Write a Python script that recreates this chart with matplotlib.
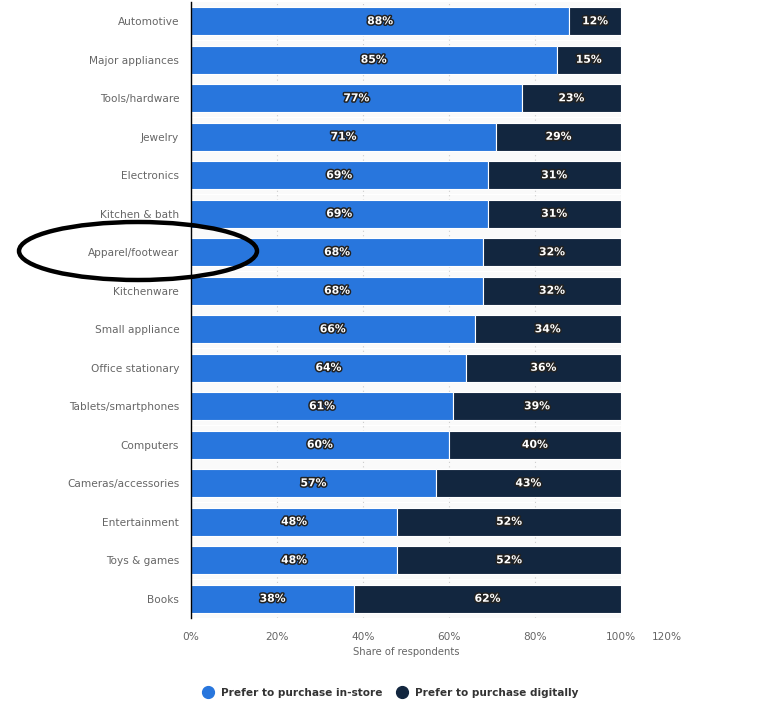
import matplotlib
matplotlib.use("Agg")
import matplotlib.pyplot as plt
import matplotlib.patheffects as pe
from matplotlib.patches import Ellipse
from matplotlib.lines import Line2D

categories = ["Automotive", "Major appliances", "Tools/hardware", "Jewelry", "Electronics",
              "Kitchen & bath", "Apparel/footwear", "Kitchenware", "Small appliance",
              "Office stationary", "Tablets/smartphones", "Computers", "Cameras/accessories",
              "Entertainment", "Toys & games", "Books"]
in_store = [88, 85, 77, 71, 69, 69, 68, 68, 66, 64, 61, 60, 57, 48, 48, 38]
digital = [12, 15, 23, 29, 31, 31, 32, 32, 34, 36, 39, 40, 43, 52, 52, 62]
x_ticks = [0, 20, 40, 60, 80, 100]
x_tick_labels = ["0%", "20%", "40%", "60%", "80%", "100%"]
series_names = ["Prefer to purchase in-store", "Prefer to purchase digitally"]

c_in = "#2876dd"
c_dig = "#12263f"

fig = plt.figure(figsize=(7.59, 7.13), dpi=100)
ax = fig.add_axes([191/759, 1-618/713, (621-191)/759, (618-2)/713])

y = list(range(len(categories)))
ax.barh(y, [100]*len(y), height=0.98, color="#fafafa", zorder=0)
ax.barh(y, in_store, height=0.72, color=c_in, edgecolor="white", linewidth=0.8, zorder=2)
ax.barh(y, digital, left=in_store, height=0.72, color=c_dig, edgecolor="white", linewidth=0.8, zorder=2)

effects = [pe.withStroke(linewidth=2.2, foreground="#222222")]
for i in y:
    ax.text(in_store[i]/2, i, f"{in_store[i]}%", ha="center", va="center", color="white",
            fontsize=7.8, fontweight="bold", path_effects=effects, zorder=4)
    ax.text(in_store[i] + digital[i]/2, i, f"{digital[i]}%", ha="center", va="center", color="white",
            fontsize=7.8, fontweight="bold", path_effects=effects, zorder=4)

ax.set_xlim(0, 100)
ax.set_ylim(len(categories)-0.5, -0.5)
ax.set_yticks(y)
ax.set_yticklabels(categories, fontsize=7.6, color="#666666")
ax.set_xticks(x_ticks)
ax.set_xticklabels(x_tick_labels, fontsize=7.6, color="#666666")
ax.text(1.107, -0.0225, "120%", transform=ax.transAxes, ha="center", va="top",
        fontsize=7.6, color="#666666")
ax.tick_params(axis="y", length=0, pad=8.5)
ax.tick_params(axis="x", length=0, pad=10)
for s in ["top", "right", "bottom"]:
    ax.spines[s].set_visible(False)
ax.spines["left"].set_color("black")
ax.spines["left"].set_linewidth(1.0)
ax.set_axisbelow(True)
ax.grid(axis="x", color="#cccccc", linestyle=(0, (1, 3)), linewidth=0.8, zorder=1)
ax.set_xlabel("Share of respondents", fontsize=7.2, color="#666666", labelpad=4)

handles = [Line2D([], [], marker="o", linestyle="none", markersize=8.5, color=c_in),
           Line2D([], [], marker="o", linestyle="none", markersize=8.5, color=c_dig)]
fig.legend(handles, series_names, loc="center", bbox_to_anchor=(388/759, 1-693/713), ncol=2,
           frameon=False, prop={"weight": "bold", "size": 7.6}, handletextpad=0.2,
           columnspacing=0.9, labelcolor="#333333")

ell = Ellipse((138/759, 1-251/713), 238/759, 58/713, transform=fig.transFigure,
              fill=False, edgecolor="black", linewidth=3.2, zorder=10)
fig.patches.append(ell)

fig.savefig("out.png", dpi=100)
